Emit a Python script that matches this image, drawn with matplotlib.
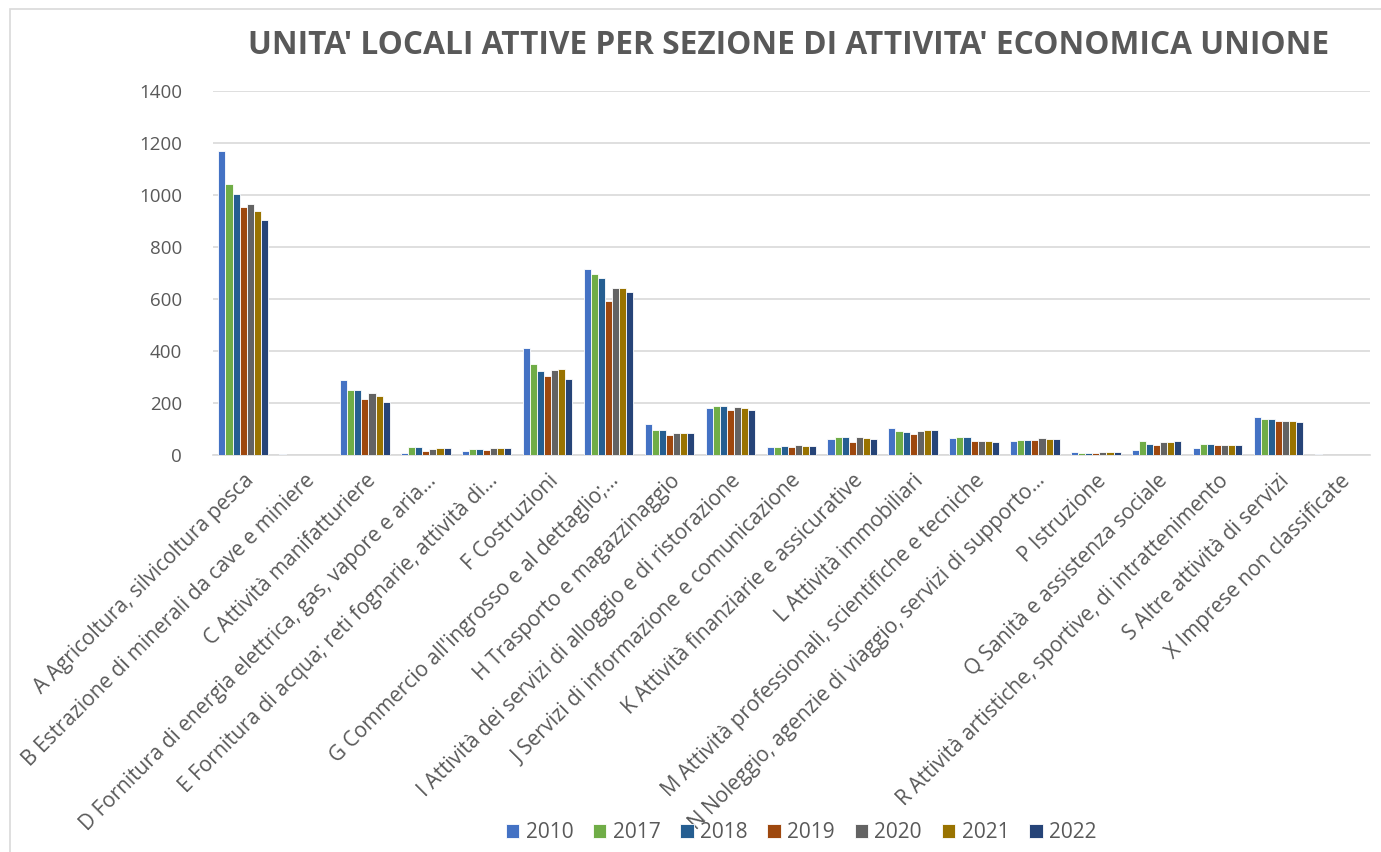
import matplotlib.pyplot as plt
import numpy as np
from matplotlib.patches import Rectangle

plt.rcParams["font.family"] = ["Open Sans", "DejaVu Sans"]

TITLE = "UNITA' LOCALI ATTIVE PER SEZIONE DI ATTIVITA' ECONOMICA UNIONE"

SECTORS = [
    "A Agricoltura, silvicoltura pesca",
    "B Estrazione di minerali da cave e miniere",
    "C Attività manifatturiere",
    "D Fornitura di energia elettrica, gas, vapore e aria…",
    "E Fornitura di acqua; reti fognarie, attività di…",
    "F Costruzioni",
    "G Commercio all'ingrosso e al dettaglio;…",
    "H Trasporto e magazzinaggio",
    "I Attività dei servizi di alloggio e di ristorazione",
    "J Servizi di informazione e comunicazione",
    "K Attività finanziarie e assicurative",
    "L Attività immobiliari",
    "M Attività professionali, scientifiche e tecniche",
    "N Noleggio, agenzie di viaggio, servizi di supporto…",
    "P Istruzione",
    "Q Sanità e assistenza sociale",
    "R Attività artistiche, sportive, di intrattenimento",
    "S Altre attività di servizi",
    "X Imprese non classificate",
]

YEARS = ["2010", "2017", "2018", "2019", "2020", "2021", "2022"]

# units per sector, one list per year (same order as SECTORS)
Y2010 = [1170, 3, 290, 8, 14, 410, 715, 121, 181, 32, 60, 102, 64, 55, 13, 21, 27, 145, 3]
Y2017 = [1041, 1, 250, 30, 22, 351, 696, 96, 189, 31, 68, 92, 68, 59, 9, 52, 41, 139, 1]
Y2018 = [1006, 1, 250, 30, 22, 324, 680, 96, 189, 36, 71, 89, 68, 59, 9, 44, 41, 139, 1]
Y2019 = [956, 1, 214, 17, 18, 304, 592, 77, 173, 29, 51, 81, 53, 59, 6, 40, 40, 132, 1]
Y2020 = [966, 1, 238, 22, 25, 328, 641, 85, 186, 38, 68, 93, 55, 64, 12, 50, 40, 131, 1]
Y2021 = [938, 1, 228, 25, 27, 332, 643, 85, 182, 36, 66, 98, 54, 63, 12, 50, 39, 131, 1]
Y2022 = [903, 1, 204, 25, 26, 293, 626, 83, 172, 36, 63, 97, 51, 62, 12, 55, 37, 126, 1]

SERIES = [Y2010, Y2017, Y2018, Y2019, Y2020, Y2021, Y2022]
COLORS = ["#4472C4", "#70AD47", "#255E91", "#9E480E", "#636363", "#997300", "#264478"]

TEXT_GREY = "#595959"
GRID_GREY = "#D9D9D9"

fig = plt.figure(figsize=(13.81, 8.52), dpi=100)
ax = fig.add_axes([0.154, 0.466, 0.838, 0.427])

x = np.arange(len(SECTORS))
width = 0.116
for i, (year, vals, color) in enumerate(zip(YEARS, SERIES, COLORS)):
    offset = (i - (len(YEARS) - 1) / 2) * width
    ax.bar(x + offset, vals, width=width, color=color, edgecolor="white",
           linewidth=0.6, label=year, zorder=3)

ax.set_xlim(-0.5, len(SECTORS) - 0.5)
ax.set_ylim(0, 1400)
ax.set_yticks(range(0, 1401, 200))
ax.grid(axis="y", color=GRID_GREY, linewidth=1.2, zorder=0)
for side in ["top", "right", "left"]:
    ax.spines[side].set_visible(False)
ax.spines["bottom"].set_color(GRID_GREY)
ax.spines["bottom"].set_linewidth(1.2)

ax.tick_params(axis="y", length=0, pad=22, labelsize=13.5, labelcolor=TEXT_GREY)
ax.tick_params(axis="x", length=0, pad=11, labelsize=15, labelcolor=TEXT_GREY)
ax.set_xticks(x)
ax.set_xticklabels(SECTORS, rotation=45, ha="right", rotation_mode="anchor")

fig.text(0.571, 0.947, TITLE, ha="center", va="center", fontsize=22.8,
         fontweight="bold", color=TEXT_GREY)

fig.legend(loc="center", bbox_to_anchor=(0.58, 0.023), ncol=7, frameon=False,
           fontsize=15, labelcolor=TEXT_GREY, handlelength=0.65, handleheight=0.65,
           handletextpad=0.3, columnspacing=0.95)

# outer chart frame
fig.patches.append(Rectangle((0.007, -0.01), 1.0, 0.999, transform=fig.transFigure,
                             fill=False, edgecolor=GRID_GREY, linewidth=1.2))

fig.savefig("out.png", dpi=100)
